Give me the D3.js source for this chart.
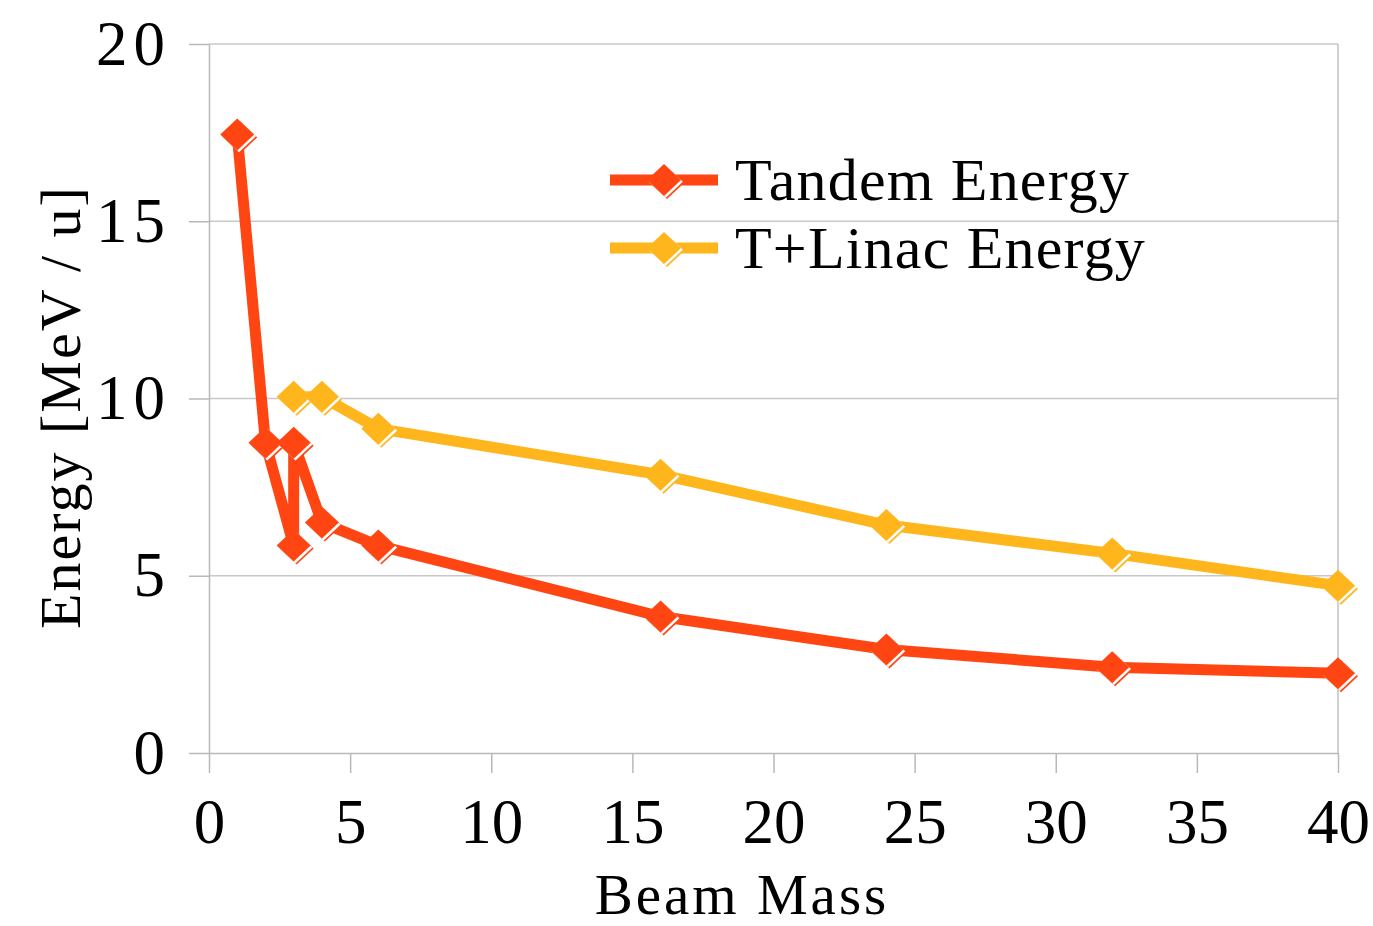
<!DOCTYPE html>
<html>
<head>
<meta charset="utf-8">
<script src="https://cdn.jsdelivr.net/npm/d3@7"></script>
<style>
  body { margin: 0; background: #fff; }
  text { font-family: "Liberation Serif", "Times New Roman", serif; fill: #000; }
</style>
</head>
<body>
<script>
// series
var tandemMass   = [1, 2, 3, 3, 4, 6, 16, 24, 32, 40];
var tandemEnergy = [17.45, 8.75, 5.85, 8.75, 6.5, 5.85, 3.85, 2.92, 2.42, 2.25];
var linacMass    = [3, 4, 6, 16, 24, 32, 40];
var linacEnergy  = [10.05, 10.05, 9.15, 7.85, 6.43, 5.63, 4.72];
var seriesNames  = ["Tandem Energy", "T+Linac Energy"];
var xTicks = [0, 5, 10, 15, 20, 25, 30, 35, 40];
var yTicks = [0, 5, 10, 15, 20];

var w = 1373, h = 926;
var plotL = 209, plotR = 1338, plotT = 44, plotB = 753;
var colors = ["#ff4512", "#ffb51c"];

var svg = d3.select("body").append("svg")
  .attr("width", w)
  .attr("height", h);

var x = d3.scaleLinear().domain([0, 40]).range([plotL, plotR]);
var y = d3.scaleLinear().domain([0, 20]).range([plotB, plotT]);

// horizontal gridlines
svg.append("g").selectAll("line")
  .data(yTicks.slice(1))
  .enter().append("line")
  .attr("x1", plotL).attr("x2", plotR)
  .attr("y1", function (d) { return y(d); })
  .attr("y2", function (d) { return y(d); })
  .attr("stroke", "#c8c8c8").attr("stroke-width", 1.5);

// right border
svg.append("line")
  .attr("x1", plotR).attr("x2", plotR).attr("y1", plotT).attr("y2", plotB)
  .attr("stroke", "#c0c0c0").attr("stroke-width", 1.5);

// axes
var xAxis = svg.append("g")
  .attr("transform", "translate(0," + plotB + ")")
  .call(d3.axisBottom(x).tickValues(xTicks).tickSize(20).tickPadding(25).tickSizeOuter(0));
var yAxis = svg.append("g")
  .attr("transform", "translate(" + plotL + ",0)")
  .call(d3.axisLeft(y).tickValues(yTicks).tickSize(20).tickPadding(18).tickSizeOuter(0));

[xAxis, yAxis].forEach(function (a) {
  a.selectAll("path, line").attr("stroke", "#b8b8b8").attr("stroke-width", 1.5);
  a.selectAll("text")
    .style("font-family", "Liberation Serif, serif")
    .style("font-size", "63px")
    .attr("fill", "#000");
});
yAxis.selectAll("text").style("letter-spacing", "6px").attr("text-anchor", "end");
xAxis.selectAll("text").attr("dy", "0.71em");

// axis titles
svg.append("text")
  .attr("x", 742).attr("y", 914)
  .attr("text-anchor", "middle")
  .style("font-size", "57px")
  .style("letter-spacing", "3px")
  .text("Beam Mass");

svg.append("text")
  .attr("transform", "translate(80,407) rotate(-90)")
  .attr("text-anchor", "middle")
  .style("font-size", "58px")
  .style("letter-spacing", "2px")
  .text("Energy [MeV / u]");

var line = d3.line()
  .x(function (d) { return x(d[0]); })
  .y(function (d) { return y(d[1]); });

function diamond(g, cx, cy, color) {
  var hw = 17, hh = 16;
  var pts = function (ox, oy) {
    return [[cx + ox, cy + oy - hh], [cx + ox + hw, cy + oy], [cx + ox, cy + oy + hh], [cx + ox - hw, cy + oy]]
      .map(function (p) { return p.join(","); }).join(" ");
  };
  g.append("polygon").attr("points", pts(3, 3)).attr("fill", color);
  g.append("polygon").attr("points", pts(1.8, 1.8)).attr("fill", "#fff");
  g.append("polygon").attr("points", pts(0, 0)).attr("fill", color);
}

var allSeries = [
  d3.zip(tandemMass, tandemEnergy),
  d3.zip(linacMass, linacEnergy)
];

allSeries.forEach(function (pts, i) {
  var g = svg.append("g");
  g.append("path")
    .datum(pts)
    .attr("d", line)
    .attr("fill", "none")
    .attr("stroke", colors[i])
    .attr("stroke-width", 11)
    .attr("stroke-linejoin", "round");
  pts.forEach(function (p) { diamond(g, x(p[0]), y(p[1]), colors[i]); });
});

// legend
var legend = svg.append("g");
seriesNames.forEach(function (name, i) {
  var ly = 180 + i * 68;
  legend.append("line")
    .attr("x1", 610).attr("x2", 718).attr("y1", ly).attr("y2", ly)
    .attr("stroke", colors[i]).attr("stroke-width", 11);
  diamond(legend, 664, ly, colors[i]);
  legend.append("text")
    .attr("x", 735).attr("y", ly + 20)
    .style("font-size", "60px")
    .style("letter-spacing", "1.2px")
    .text(name);
});
</script>
</body>
</html>
